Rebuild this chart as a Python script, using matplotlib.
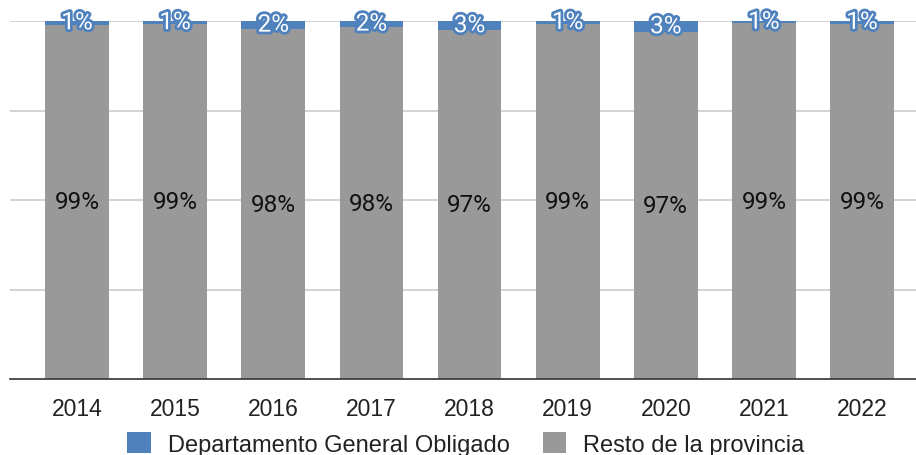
import numpy as np
import matplotlib
matplotlib.use("Agg")
import matplotlib.pyplot as plt
import matplotlib.patheffects as pe

# data (percent shares)
years = ['2014', '2015', '2016', '2017', '2018', '2019', '2020', '2021', '2022']
depto = [1.0, 0.9, 2.3, 1.7, 2.6, 0.8, 3.2, 0.6, 0.8]
resto = [99.0, 99.1, 97.7, 98.3, 97.4, 99.2, 96.8, 99.4, 99.2]

c_blue = '#4f81bd'
c_grey = '#999999'

fig = plt.figure(figsize=(9.16, 4.56), dpi=100)
ax = fig.add_axes([10/916, 76/456, 906/916, 358/456])

x = np.arange(len(years))
tot = np.array(depto) + np.array(resto)
r = np.array(resto) / tot
d = np.array(depto) / tot

ax.bar(x, r, 0.65, color=c_grey, label='Resto de la provincia', zorder=2)
ax.bar(x, d, 0.65, bottom=r, color=c_blue, label='Departamento General Obligado', zorder=2)

for i in range(len(years)):
    ax.text(x[i], r[i] / 2, '%d%%' % round(resto[i]), ha='center', va='center',
            fontsize=17.5, family='Roboto', color='#111111', zorder=3)
    t = ax.text(x[i], r[i] + d[i] / 2, '%d%%' % round(depto[i]), ha='center', va='center',
                fontsize=17.5, family='Roboto', color='white', zorder=4)
    t.set_path_effects([pe.withStroke(linewidth=4, foreground=c_blue)])

ax.set_xlim(-0.683, 8.55)
ax.set_ylim(0, 1)
ax.set_yticks([0.25, 0.5, 0.75, 1.0])
ax.yaxis.grid(True, color='#cccccc', lw=1.2, zorder=0)
ax.tick_params(axis='y', left=False, labelleft=False)
ax.set_xticks(x)
ax.set_xticklabels(years, fontsize=16.5, family='Liberation Sans', color='#222222')
ax.tick_params(axis='x', length=0, pad=13)
for s in ['left', 'right', 'top']:
    ax.spines[s].set_visible(False)
ax.spines['bottom'].set_color('#333333')
ax.spines['bottom'].set_linewidth(1.2)
ax.spines['bottom'].set_zorder(5)

h, l = ax.get_legend_handles_labels()
fig.legend(h[::-1], l[::-1], loc='center', bbox_to_anchor=(466/916, 1 - 445/456), ncol=2,
           frameon=False, prop={'family': 'Liberation Sans', 'size': 17},
           handlelength=1.0, handleheight=1.0, handletextpad=0.72, columnspacing=1.4,
           labelcolor='#222222', borderpad=0.2)

fig.savefig('out.png', dpi=100)
